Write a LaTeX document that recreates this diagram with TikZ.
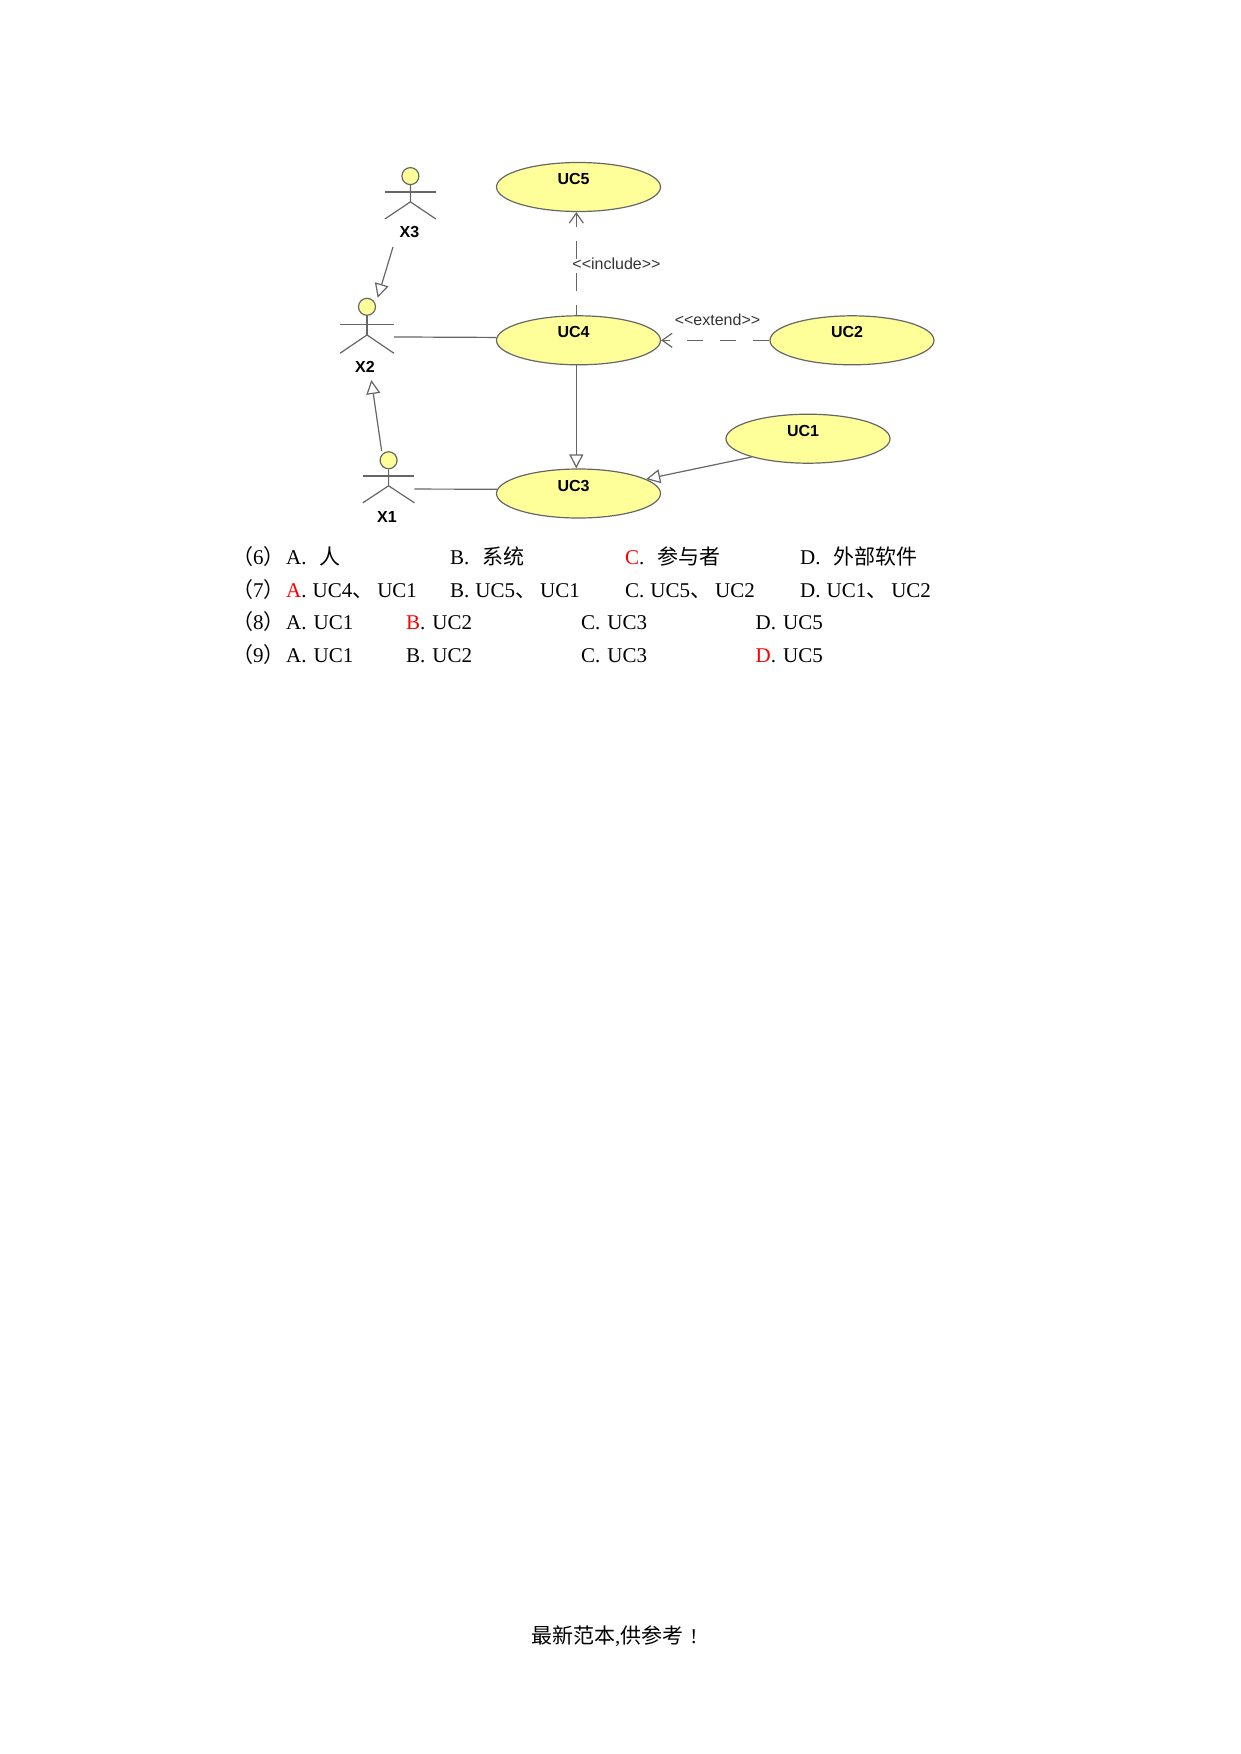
\documentclass[tikz,border=0pt]{standalone}
\usepackage{fontspec}
\setmainfont{Liberation Serif}
\setsansfont{Liberation Sans}
\newfontfamily\cjk{Noto Sans CJK SC}
\usetikzlibrary{arrows.meta,calc,positioning,shapes.geometric}
\newcommand{\zh}[1]{{\cjk #1}}
\newcommand{\ucname}[1]{\raisebox{2.5pt}[0pt][0pt]{\kern-10pt #1}}
\newcommand{\qnum}[1]{\makebox[54pt][l]{\zh{（}#1\zh{）}}}
\newcommand{\sep}{\zh{、}\kern4pt}
\definecolor{ucfill}{HTML}{FFFF99}
\definecolor{ucline}{HTML}{666666}
\begin{document}
\begin{tikzpicture}[
   x=1pt, y=-1pt,
   usecase/.style={ellipse, draw=ucline, fill=ucfill, line width=1.2pt, inner sep=0pt,
      minimum width=164pt, minimum height=49pt, font=\sffamily\bfseries\fontsize{16}{18}\selectfont},
   actor/.style={rectangle, inner sep=0pt, outer sep=0pt},
   actorhead/.style={circle, draw=ucline, fill=ucfill, line width=1.2pt, inner sep=0pt,
      minimum size=17pt, anchor=north},
   actorname/.style={inner sep=0pt, font=\sffamily\bfseries\fontsize{16}{18}\selectfont},
   stereo/.style={inner sep=0pt, text=black!80, font=\sffamily\fontsize{16}{18}\selectfont},
   option/.style={inner sep=0pt, anchor=base west, font=\fontsize{21}{25}\selectfont},
   stick/.style={draw=ucline, line width=1.2pt},
   assoc/.style={draw=ucline, line width=1.2pt},
   general/.style={draw=ucline, line width=1.2pt, -{Triangle[open, length=14pt, width=14pt]}},
   depend/.style={draw=ucline, line width=1.2pt, -{Straight Barb[length=10pt, width=14pt]}}
]
\useasboundingbox (0,0) rectangle (1241,1754);

% Use cases
\node[usecase] (uc5) at (578.5,187) {\ucname{UC5}};
\node[usecase] (uc4) at (578.5,340.3) {\ucname{UC4}};
\node[usecase] (uc3) at (578.5,493.5) {\ucname{UC3}};
\node[usecase] (uc2) at (852,340.3) {\ucname{UC2}};
\node[usecase] (uc1) at (808,438.7) {\ucname{UC1}};

% Actors
\node[actor, minimum width=51pt, minimum height=52pt] (x3) at (410.4,193) {};
\node[actor, minimum width=54pt, minimum height=55.6pt] (x2) at (367,325.5) {};
\node[actor, minimum width=51.7pt, minimum height=51.7pt] (x1) at (388.6,477) {};
\node[actorname, xshift=-1pt] (x3name) [below=7.5pt of x3] {X3};
\node[actorname, xshift=-2pt] (x2name) [below=7.5pt of x2] {X2};
\node[actorname, xshift=-1.6pt] (x1name) [below=8pt of x1] {X1};
\foreach \who in {x1,x2,x3} {
   \node[actorhead] (\who head) at (\who.north) {};
   \coordinate (\who hip) at ($(\who.north)!.67!(\who.south)$);
   \draw[stick] (\who head) -- (\who hip);
   \draw[stick] ($(\who.north west)!.48!(\who.south west)$) -- ($(\who.north east)!.48!(\who.south east)$);
   \draw[stick] (\who.south west) -- (\who hip) -- (\who.south east);
}

% Free ends near the names
\coordinate (x3tail) at (393,247);
\coordinate (x2tip) at (371.3,380);

% Edges
\draw[general] (x3tail) -- (x2.69);
\draw[general] (x1.105) -- (x2tip);
\draw[assoc] (x2.-23) -- (uc4.178);
\draw[assoc] (x1.-25) -- (uc3.177.6);
\draw[general] (uc4.265) -- (uc3.95);
\draw[general] (uc1.198) -- (uc3.12);
\draw[depend, dash pattern=on 18pt off 14pt, dash phase=8pt] (uc4.95) -- (uc5.265);
\draw[depend, dash pattern=on 16pt off 17pt] (uc2.west) -- (uc4.east);
\node[stereo] (include) at (616.5,263.3) {{<}{<}include{>}{>}};
\node[stereo] (extend) at (717.5,320) {{<}{<}extend{>}{>}};

% Options
\node[option] (q6a) at (232,564) {\qnum{6}A.\hspace{13pt}\zh{人}};
\node[option] (q6b) at (450,564) {B.\hspace{13pt}\zh{系统}};
\node[option] (q6c) at (625,564) {\textcolor{red}{C}.\hspace{13pt}\zh{参与者}};
\node[option] (q6d) at (800,564) {D.\hspace{13pt}\zh{外部软件}};
\node[option] (q7a) at (232,597) {\qnum{7}\textcolor{red}{A}.\kern6pt UC4\sep UC1};
\node[option] (q7b) at (450,597) {B.\kern6pt UC5\sep UC1};
\node[option] (q7c) at (625,597) {C.\kern6pt UC5\sep UC2};
\node[option] (q7d) at (800,597) {D.\kern6pt UC1\sep UC2};
\node[option] (q8a) at (232,629) {\qnum{8}A.\kern7pt UC1};
\node[option] (q8b) at (406,629) {\textcolor{red}{B}.\kern7pt UC2};
\node[option] (q8c) at (581,629) {C.\kern7pt UC3};
\node[option] (q8d) at (755.5,629) {D.\kern7pt UC5};
\node[option] (q9a) at (232,662) {\qnum{9}A.\kern7pt UC1};
\node[option] (q9b) at (406,662) {B.\kern7pt UC2};
\node[option] (q9c) at (581,662) {C.\kern7pt UC3};
\node[option] (q9d) at (755.5,662) {\textcolor{red}{D}.\kern7pt UC5};

% Footer
\node[option] (footer) at (531,1643) {\zh{最新范本},\zh{供参考}\kern7pt!};
\end{tikzpicture}
\end{document}
